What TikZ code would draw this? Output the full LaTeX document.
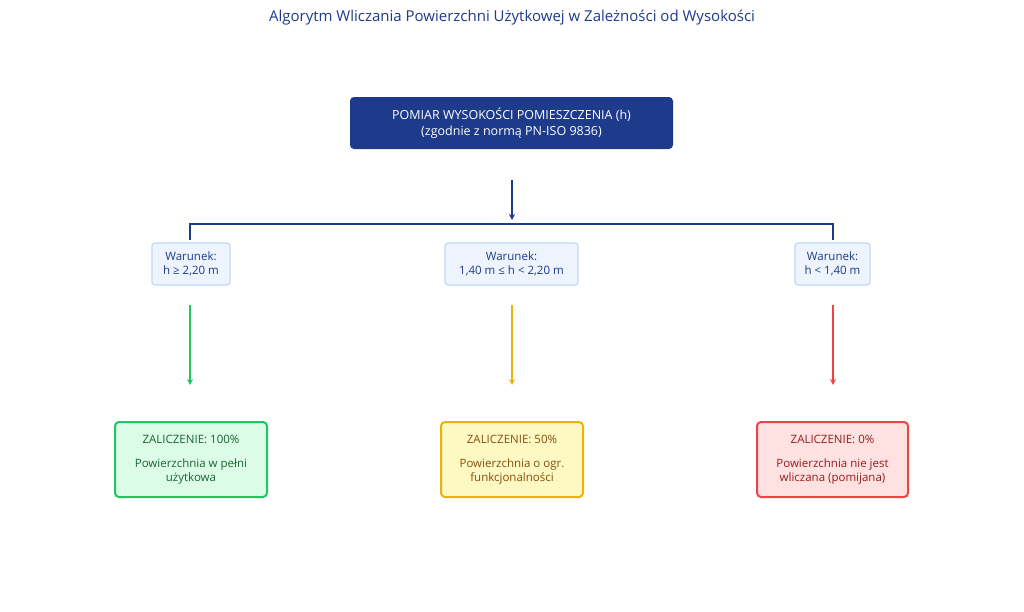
\documentclass[tikz,border=0pt]{standalone}
\usepackage{fontspec}
\setmainfont{Open Sans}
\usetikzlibrary{arrows.meta}
\definecolor{navy}{HTML}{1E3A8A}
\definecolor{cfill}{HTML}{EEF4FE}
\definecolor{cbord}{HTML}{C3D8FA}
\definecolor{gb}{HTML}{22C55E}\definecolor{gf}{HTML}{DCFCE7}\definecolor{gt}{HTML}{166534}
\definecolor{yb}{HTML}{EAB308}\definecolor{yf}{HTML}{FEF9C3}\definecolor{yt}{HTML}{854D0E}
\definecolor{rb}{HTML}{EF4444}\definecolor{rf}{HTML}{FEE2E2}\definecolor{rt}{HTML}{991B1B}
\begin{document}
\begin{tikzpicture}[x=1pt,y=-1pt,
 cond/.style={draw=cbord,line width=1.2pt,fill=cfill,rounded corners=3pt,align=center,text=navy,font=\fontsize{11.5}{14}\selectfont,minimum height=42pt,inner xsep=5pt},
 res/.style={line width=2pt,rounded corners=4pt,align=center,font=\fontsize{11.5}{14}\selectfont,minimum height=75pt},
 arr/.style={line width=1.5pt,-{Stealth[length=6pt,width=6pt]}}]
\useasboundingbox[fill=white] (0,0) rectangle (1024,611);
\node[text=navy,font=\fontsize{15}{18}\selectfont] (title) at (512,18) {Algorytm Wliczania Powierzchni Użytkowej w Zależności od Wysokości};
\node[fill=navy,rounded corners=4pt,text=white,align=center,minimum width=323pt,minimum height=52pt,font=\fontsize{12.5}{16}\selectfont] (top) at (511.5,123) {POMIAR WYSOKOŚCI POMIESZCZENIA (h)\\(zgodnie z normą PN-ISO 9836)};
\coordinate (a0) at (512,180);\coordinate (a1) at (512,220);
\draw[arr,navy] (a0) -- (a1);
\node[cond,minimum width=78pt] (c1) at (191,264) {Warunek:\\h ≥ 2,20 m};
\node[cond,minimum width=133pt] (c2) at (511.5,264) {Warunek:\\1,40 m ≤ h < 2,20 m};
\node[cond,minimum width=75pt] (c3) at (832.5,264) {Warunek:\\h < 1,40 m};
\coordinate (h1) at (190,224);\coordinate (h3) at (833,224);
\draw[navy,line width=2pt] (190,240) -- (h1) -- (h3) -- (833,240);
\node[res,draw=gb,fill=gf,text=gt,minimum width=152pt] (r1) at (191,459.5) {ZALICZENIE: 100\%\\[10pt]Powierzchnia w pełni\\użytkowa};
\node[res,draw=yb,fill=yf,text=yt,minimum width=142pt] (r2) at (512,459.5) {ZALICZENIE: 50\%\\[10pt]Powierzchnia o ogr.\\funkcjonalności};
\node[res,draw=rb,fill=rf,text=rt,minimum width=151pt] (r3) at (832.5,459.5) {ZALICZENIE: 0\%\\[10pt]Powierzchnia nie jest\\wliczana (pomijana)};
\draw[arr,gb] (190,305) -- (190,385);
\draw[arr,yb] (512,305) -- (512,385);
\draw[arr,rb] (833,305) -- (833,385);
\end{tikzpicture}
\end{document}
